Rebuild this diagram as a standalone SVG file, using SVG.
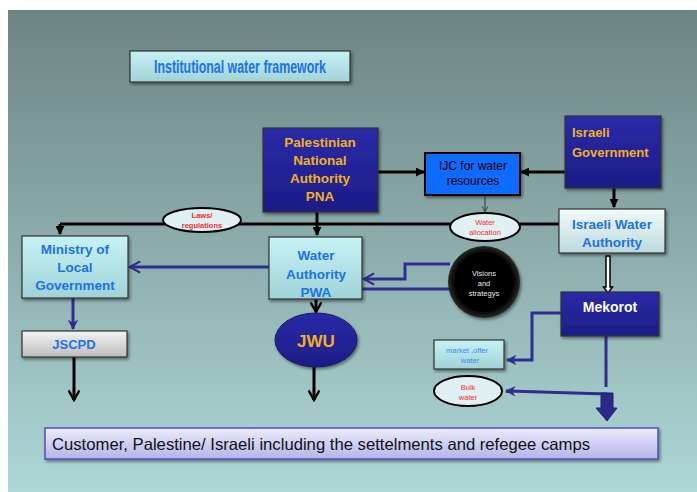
<svg xmlns="http://www.w3.org/2000/svg" width="697" height="492" viewBox="0 0 697 492">
<defs>
<linearGradient id="bg" x1="0" y1="0" x2="0" y2="1">
<stop offset="0" stop-color="#6d8484"/>
<stop offset="1" stop-color="#aed7d7"/>
</linearGradient>
<linearGradient id="cyan" x1="0" y1="0" x2="0" y2="1">
<stop offset="0" stop-color="#c8f2f5"/>
<stop offset="1" stop-color="#9fd3d7"/>
</linearGradient>
<linearGradient id="pale" x1="0" y1="0" x2="0" y2="1">
<stop offset="0" stop-color="#f4fbfc"/>
<stop offset="1" stop-color="#bcd9dc"/>
</linearGradient>
<linearGradient id="navy" x1="0" y1="0" x2="0" y2="1">
<stop offset="0" stop-color="#2a2aa8"/>
<stop offset="1" stop-color="#1c1c86"/>
</linearGradient>
<linearGradient id="grey" x1="0" y1="0" x2="0" y2="1">
<stop offset="0" stop-color="#f4f4f4"/>
<stop offset="1" stop-color="#bdbdbd"/>
</linearGradient>
<linearGradient id="lav" x1="0" y1="0" x2="0" y2="1">
<stop offset="0" stop-color="#ececfc"/>
<stop offset="1" stop-color="#b4b4ea"/>
</linearGradient>
<radialGradient id="blk" cx="0.5" cy="0.5" r="0.5">
<stop offset="0.8" stop-color="#000"/>
<stop offset="1" stop-color="#2a2a2a"/>
</radialGradient>
<filter id="sh" x="-10%" y="-10%" width="130%" height="130%">
<feDropShadow dx="1.5" dy="2" stdDeviation="1.5" flood-color="#000" flood-opacity="0.45"/>
</filter>
<marker id="tri" viewBox="0 0 10 10" refX="9" refY="5" markerWidth="3" markerHeight="3" orient="auto" markerUnits="strokeWidth">
<path d="M0,0 L10,5 L0,10 z" fill="#000"/>
</marker>
<marker id="vee" viewBox="0 0 12 12" refX="10" refY="6" markerWidth="4.3" markerHeight="4.3" orient="auto" markerUnits="strokeWidth">
<path d="M1,1 L10,6 L1,11" fill="none" stroke="#000" stroke-width="2.2"/>
</marker>
<marker id="nvee" viewBox="0 0 12 12" refX="10" refY="6" markerWidth="4.5" markerHeight="4.5" orient="auto" markerUnits="strokeWidth">
<path d="M1,1 L10,6 L1,11" fill="none" stroke="#2e2e90" stroke-width="2"/>
</marker>
<marker id="ntri" viewBox="0 0 10 10" refX="9" refY="5" markerWidth="3.5" markerHeight="3.5" orient="auto" markerUnits="strokeWidth">
<path d="M0,0 L10,5 L0,10 L3,5 z" fill="#2e2e90"/>
</marker>
<marker id="thin" viewBox="0 0 10 10" refX="9" refY="5" markerWidth="7" markerHeight="7" orient="auto" markerUnits="strokeWidth">
<path d="M1,1 L9,5 L1,9" fill="none" stroke="#333" stroke-width="1.2"/>
</marker>
</defs>
<style>
.bl{stroke:#000;stroke-width:3;fill:none}
.nv{stroke:#2e2e90;stroke-width:3;fill:none}
.box{stroke:#333;stroke-width:1.2;filter:url(#sh)}
.t{font-family:"Liberation Sans",Arial,sans-serif;text-anchor:middle}
.gold{fill:#f2b01e;font-weight:bold;font-size:13.5px}
.blue{fill:#1a72f0;font-weight:bold;font-size:13.5px}
.red{fill:#ff2a2a;font-size:7.5px}
</style>
<rect x="8" y="10" width="689" height="482" fill="url(#bg)"/>

<g id="connectors">
<path class="bl" d="M60,224 H559"/>
<path class="bl" d="M60,224 V234" marker-end="url(#tri)"/>
<path class="bl" d="M317,212 V235" marker-end="url(#tri)"/>
<path class="bl" d="M378,172 H424" marker-end="url(#tri)"/>
<path class="bl" d="M565,172 H521" marker-end="url(#tri)"/>
<path class="bl" d="M614,188 V207" marker-end="url(#tri)"/>
<path d="M485,195 V212" stroke="#333" stroke-width="1" fill="none" marker-end="url(#thin)"/>
<path d="M606,256 V287 H603.5 L608,293 L612.5,287 H610 V256 Z" fill="#fff" stroke="#000" stroke-width="1.5"/>
<path class="nv" d="M269,267 H130" marker-end="url(#nvee)"/>
<path class="nv" d="M450,264 H405 V279 H364" marker-end="url(#nvee)"/>
<path class="nv" d="M450,289 H362"/>
<path class="nv" d="M73,298 V329" marker-end="url(#ntri)"/>
<path class="bl" d="M316,299 V312" marker-end="url(#vee)"/>
<path class="bl" d="M314,366 V400" marker-end="url(#vee)"/>
<path class="bl" d="M74,357 V400" marker-end="url(#vee)"/>
<path class="nv" d="M561,313 H532 V360 H507" marker-end="url(#ntri)"/>
<path class="nv" d="M606,336 V387"/>
<path class="nv" d="M607,394 L506,391" marker-end="url(#ntri)"/>
<path d="M601,393 H613 V408 H617 L607,421 L596,408 H601 Z" fill="#2a2a8a" stroke="#22227a" stroke-width="1"/>
</g>

<g id="title">
<rect class="box" x="130" y="51" width="220" height="31" fill="url(#cyan)"/>
<text class="t" x="240" y="73" font-size="17.5" font-weight="bold" fill="#1a72f0" textLength="172" lengthAdjust="spacingAndGlyphs">Institutional water framework</text>
</g>

<g id="pna">
<rect class="box" x="263" y="128" width="115" height="84" fill="url(#navy)"/>
<text class="t gold" x="320" y="147">Palestinian</text>
<text class="t gold" x="320" y="165">National</text>
<text class="t gold" x="320" y="183">Authority</text>
<text class="t gold" x="320" y="201">PNA</text>
</g>

<g id="ijc">
<rect x="425" y="153" width="95" height="42" fill="#0a6cff" stroke="#000" stroke-width="2" filter="url(#sh)"/>
<text class="t" x="473" y="170" font-size="12" fill="#000">IJC for water</text>
<text class="t" x="473" y="185" font-size="12" fill="#000">resources</text>
</g>

<g id="israeli-government">
<rect class="box" x="565" y="116" width="96" height="72" fill="url(#navy)"/>
<text x="572" y="137" font-family="Liberation Sans,Arial,sans-serif" font-weight="bold" font-size="13" fill="#f2b01e">Israeli</text>
<text x="572" y="157" font-family="Liberation Sans,Arial,sans-serif" font-weight="bold" font-size="13" fill="#f2b01e">Government</text>
</g>

<g id="israeli-water-authority">
<rect class="box" x="559" y="209" width="106" height="44" fill="url(#pale)"/>
<text class="t blue" x="612" y="229" font-size="13">Israeli Water</text>
<text class="t blue" x="612" y="247" font-size="13">Authority</text>
</g>

<g id="laws">
<ellipse cx="202" cy="220" rx="39" ry="12" fill="#dff1f3" stroke="#000" stroke-width="2"/>
<text class="t red" x="202" y="218" font-weight="bold">Laws/</text>
<text class="t red" x="202" y="228" font-weight="bold">regulations</text>
</g>

<g id="water-allocation">
<ellipse cx="485" cy="227" rx="35" ry="14" fill="#dff1f3" stroke="#000" stroke-width="2"/>
<text class="t red" x="485" y="225" fill="#ff4d4d">Water</text>
<text class="t red" x="485" y="235" fill="#ff4d4d">allocation</text>
</g>

<g id="ministry">
<rect class="box" x="22" y="236" width="106" height="62" fill="url(#cyan)"/>
<text class="t blue" x="75" y="254" font-size="13">Ministry of</text>
<text class="t blue" x="75" y="272" font-size="13">Local</text>
<text class="t blue" x="75" y="290" font-size="13">Government</text>
</g>

<g id="pwa">
<rect class="box" x="269" y="237" width="93" height="62" fill="url(#cyan)"/>
<text class="t blue" x="316" y="260">Water</text>
<text class="t blue" x="316" y="279">Authority</text>
<text class="t blue" x="316" y="297">PWA</text>
</g>

<g id="visions">
<circle cx="484" cy="282" r="36" fill="url(#blk)" filter="url(#sh)"/>
<text class="t" x="484" y="276" font-size="7.5" fill="#e8e8e8">Visions</text>
<text class="t" x="484" y="286" font-size="7.5" fill="#e8e8e8">and</text>
<text class="t" x="484" y="296" font-size="7.5" fill="#e8e8e8">strategys</text>
</g>

<g id="mekorot">
<rect class="box" x="561" y="292" width="98" height="44" fill="url(#navy)"/>
<text class="t" x="610" y="312" font-size="14" font-weight="bold" fill="#fff">Mekorot</text>
</g>

<g id="jwu">
<ellipse cx="316" cy="340" rx="41" ry="27" fill="url(#navy)" stroke="#1a1a60" stroke-width="1" filter="url(#sh)"/>
<text class="t" x="316" y="347" font-size="17" font-weight="bold" fill="#f2b01e">JWU</text>
</g>

<g id="jscpd">
<rect class="box" x="22" y="331" width="105" height="26" fill="url(#grey)"/>
<text class="t" x="74" y="349" font-size="13" font-weight="bold" fill="#1a72f0">JSCPD</text>
</g>

<g id="market">
<rect class="box" x="434" y="340" width="70" height="29" fill="url(#cyan)"/>
<text class="t" x="467" y="353" font-size="7.5" fill="#3a8aff">market ,offer</text>
<text class="t" x="470" y="363" font-size="7.5" fill="#3a8aff">water</text>
</g>

<g id="bulk-water">
<ellipse cx="468" cy="391" rx="34" ry="15" fill="#dff1f3" stroke="#000" stroke-width="2"/>
<text class="t red" x="468" y="390" fill="#ff4d4d">Bulk</text>
<text class="t red" x="468" y="400" fill="#ff4d4d">water</text>
</g>

<g id="customer">
<rect x="45" y="428" width="613" height="31" fill="url(#lav)" stroke="#5050c0" stroke-width="1.5" filter="url(#sh)"/>
<text x="52" y="450" font-family="Liberation Sans,Arial,sans-serif" font-size="16.5" fill="#111" textLength="538" lengthAdjust="spacingAndGlyphs">Customer, Palestine/ Israeli including the settelments and refegee camps</text>
</g>
</svg>
